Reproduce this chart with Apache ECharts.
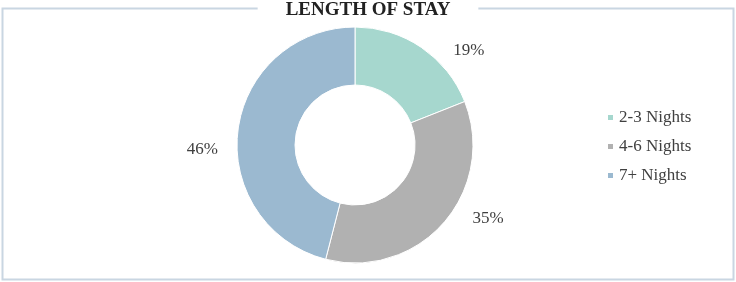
<!DOCTYPE html>
<html>
<head>
<meta charset="utf-8">
<script src="https://cdn.jsdelivr.net/npm/echarts@6/dist/echarts.min.js"></script>
<style>
  html, body { margin: 0; padding: 0; background: #fff; }
  #main { width: 736px; height: 282px; }
</style>
</head>
<body>
<div id="main"></div>
<script>
// length of stay share (%)
var categories = ['2-3 Nights', '4-6 Nights', '7+ Nights'];
var shares = [19, 35, 46];
var colors = ['#a6d7ce', '#b1b1b1', '#9bb9d0'];

// small nudges so the % labels sit like the excel ones
var labelNudge = [[7, 3], [4, -5], [5, 19]];

var chart = echarts.init(document.getElementById('main'));

var option = {
  color: colors,
  title: {
    text: 'LENGTH OF STAY',
    left: 'center',
    top: -1,
    padding: [2, 28],
    backgroundColor: '#fff',
    textStyle: {
      fontFamily: 'Liberation Serif',
      fontWeight: 'bold',
      fontSize: 19,
      color: '#222'
    }
  },
  graphic: [{
    type: 'rect',
    z: -1,
    shape: { x: 2.5, y: 8.5, width: 731, height: 271 },
    style: { fill: 'none', stroke: '#c9d6e2', lineWidth: 2 }
  }],
  legend: {
    orient: 'vertical',
    left: 601,
    top: 104,
    itemWidth: 7,
    itemHeight: 7,
    itemGap: 12,
    icon: 'rect',
    textStyle: {
      fontFamily: 'Liberation Serif',
      fontSize: 17,
      color: '#404040'
    },
    data: categories
  },
  series: [{
    type: 'pie',
    center: [355, 145],
    radius: [60, 118],
    startAngle: 90,
    clockwise: true,
    avoidLabelOverlap: false,
    itemStyle: { borderColor: '#fff', borderWidth: 1 },
    label: {
      position: 'outside',
      formatter: '{c}%',
      fontFamily: 'Liberation Serif',
      fontSize: 17,
      color: '#404040'
    },
    labelLine: { show: false, length: 0, length2: 20 },
    labelLayout: function (p) {
      var n = labelNudge[p.dataIndex];
      return { dx: n[0], dy: n[1] };
    },
    emphasis: { disabled: true },
    data: categories.map(function (c, i) {
      return { name: c, value: shares[i] };
    })
  }]
};

chart.setOption(option);
</script>
</body>
</html>
